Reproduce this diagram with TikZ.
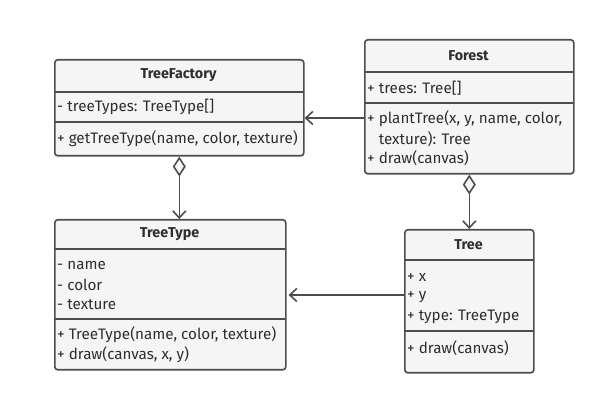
\documentclass[tikz,border=0pt]{standalone}
\usepackage{fontspec}
\setmainfont{Fira Sans}
\usetikzlibrary{arrows.meta}
\definecolor{lc}{HTML}{4D4D4D}
\definecolor{bg}{HTML}{F5F5F5}
\definecolor{tc}{HTML}{2E2E2E}
\begin{document}
\begin{tikzpicture}[x=1pt,y=-1pt,
  cls/.style={draw=lc, fill=bg, line width=1.6pt, rounded corners=3pt, anchor=north west, inner sep=0pt},
  sep/.style={draw=lc, line width=1.6pt},
  ttl/.style={font=\fontsize{14.3}{17}\selectfont\bfseries, text=tc, inner sep=0pt},
  mem/.style={font=\fontsize{15.2}{18}\selectfont, text=tc, anchor=west, inner sep=0pt},
  assoc/.style={draw=lc, line width=1.6pt, -{Straight Barb[length=7pt,width=13pt,line width=1.6pt]}},
  aggr/.style={draw=lc, line width=1.6pt, {Diamond[open,length=20pt,width=13pt,line width=1.6pt,fill=bg]}-{Straight Barb[length=7pt,width=13pt,line width=1.6pt]}}]
\useasboundingbox (0,0) rectangle (608,403);
% TreeFactory
\node[cls, minimum width=249pt, minimum height=96pt] (tf) at (54,59) {};
\draw[sep] (54,92) -- (303,92);
\draw[sep] (54,122) -- (303,122);
\node[ttl] (tft) at (178.5,75.5) {TreeFactory};
\node[mem] (tfa) at (57,107) {- treeTypes: TreeType[]};
\node[mem] (tfm) at (57,139) {+ getTreeType(name, color, texture)};
% Forest
\node[cls, minimum width=209pt, minimum height=134pt] (fo) at (364,39) {};
\draw[sep] (364,72) -- (573,72);
\draw[sep] (364,103) -- (573,103);
\node[ttl] (fot) at (468.5,55.5) {Forest};
\node[mem] (foa) at (367,88) {+ trees: Tree[]};
\node[mem] (fom1) at (367,119) {+ plantTree(x, y, name, color,};
\node[mem] (fom2) at (367,139) {\hphantom{+ }texture): Tree};
\node[mem] (fom3) at (367,158) {+ draw(canvas)};
% TreeType
\node[cls, minimum width=231pt, minimum height=150pt] (tt) at (54,219) {};
\draw[sep] (54,249) -- (285,249);
\draw[sep] (54,319) -- (285,319);
\node[ttl] (ttt) at (169.5,234.5) {TreeType};
\node[mem] (tta1) at (57,265) {- name};
\node[mem] (tta2) at (57,285) {- color};
\node[mem] (tta3) at (57,305) {- texture};
\node[mem] (ttm1) at (57,335) {+ TreeType(name, color, texture)};
\node[mem] (ttm2) at (57,355) {+ draw(canvas, x, y)};
% Tree
\node[cls, minimum width=129pt, minimum height=143pt] (tr) at (404,229) {};
\draw[sep] (404,260) -- (533,260);
\draw[sep] (404,331) -- (533,331);
\node[ttl] (trt) at (468.5,245) {Tree};
\node[mem] (tra1) at (407,277) {+ x};
\node[mem] (tra2) at (407,297) {+ y};
\node[mem] (tra3) at (407,317) {+ type: TreeType};
\node[mem] (trm) at (407,348) {+ draw(canvas)};
% connectors
\path (fo.north west) ++(0,79) coordinate (f1);
\draw[assoc] (f1) -- (f1 -| tf.east);
\path (tr.north west) ++(0,66) coordinate (t1);
\draw[assoc, shorten >=2pt] (t1) -- (t1 -| tt.east);
\draw[aggr] (tf.south) -- (tf.south |- tt.north);
\draw[aggr] (fo.south) -- (fo.south |- tr.north);
\end{tikzpicture}
\end{document}
